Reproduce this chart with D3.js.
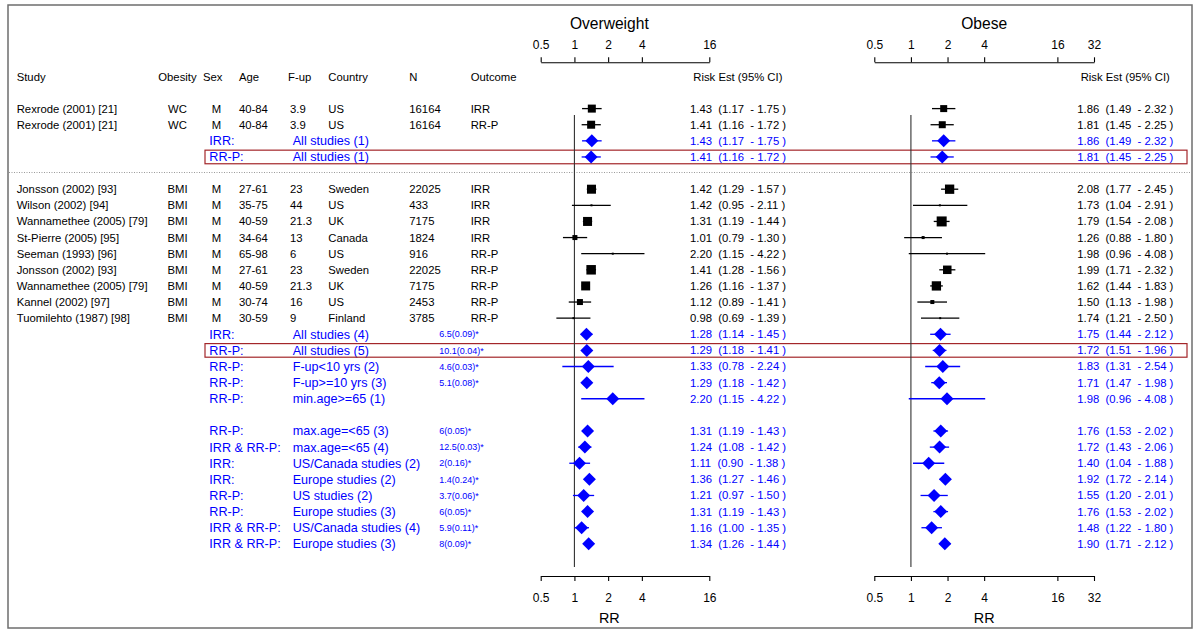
<!DOCTYPE html>
<html>
<head>
<meta charset="utf-8">
<script src="https://cdn.jsdelivr.net/npm/d3@7"></script>
<style>
  html, body { margin: 0; padding: 0; background: #fff; }
  svg { display: block; font-family: "Liberation Sans", Arial, Helvetica, sans-serif; }
  text { white-space: pre; }
</style>
</head>
<body>
<svg id="chart" width="1200" height="635"></svg>
<script>
// ---------- Individual studies ----------
const studies   = ["Rexrode (2001) [21]", "Rexrode (2001) [21]", "Jonsson (2002) [93]", "Wilson (2002) [94]", "Wannamethee (2005) [79]", "St-Pierre (2005) [95]", "Seeman (1993) [96]", "Jonsson (2002) [93]", "Wannamethee (2005) [79]", "Kannel (2002) [97]", "Tuomilehto (1987) [98]"];
const obesity   = ["WC", "WC", "BMI", "BMI", "BMI", "BMI", "BMI", "BMI", "BMI", "BMI", "BMI"];
const sex       = ["M", "M", "M", "M", "M", "M", "M", "M", "M", "M", "M"];
const ages      = ["40-84", "40-84", "27-61", "35-75", "40-59", "34-64", "65-98", "27-61", "40-59", "30-74", "30-59"];
const followUp  = ["3.9", "3.9", "23", "44", "21.3", "13", "6", "23", "21.3", "16", "9"];
const countries = ["US", "US", "Sweden", "US", "UK", "Canada", "US", "Sweden", "UK", "US", "Finland"];
const sampleN   = ["16164", "16164", "22025", "433", "7175", "1824", "916", "22025", "7175", "2453", "3785"];
const outcomes  = ["IRR", "RR-P", "IRR", "IRR", "IRR", "IRR", "RR-P", "RR-P", "RR-P", "RR-P", "RR-P"];
const studyRows = [0, 1, 5, 6, 7, 8, 9, 10, 11, 12, 13];

const owEst = [1.43, 1.41, 1.42, 1.42, 1.31, 1.01, 2.20, 1.41, 1.26, 1.12, 0.98];
const owLo  = [1.17, 1.16, 1.29, 0.95, 1.19, 0.79, 1.15, 1.28, 1.16, 0.89, 0.69];
const owHi  = [1.75, 1.72, 1.57, 2.11, 1.44, 1.30, 4.22, 1.56, 1.37, 1.41, 1.39];
const owBox = [8, 8, 9, 2, 9, 5, 2, 9.5, 9, 6, 2];

const obEst = [1.86, 1.81, 2.08, 1.73, 1.79, 1.26, 1.98, 1.99, 1.62, 1.50, 1.74];
const obLo  = [1.49, 1.45, 1.77, 1.04, 1.54, 0.88, 0.96, 1.71, 1.44, 1.13, 1.21];
const obHi  = [2.32, 2.25, 2.45, 2.91, 2.08, 1.80, 4.08, 2.32, 1.83, 1.98, 2.50];
const obBox = [7, 7, 9.3, 2, 10, 3, 2, 8.5, 9.3, 4, 2];

// ---------- Summary estimates ----------
const sumType  = ["IRR:", "RR-P:", "IRR:", "RR-P:", "RR-P:", "RR-P:", "RR-P:", "RR-P:", "IRR & RR-P:", "IRR:", "IRR:", "RR-P:", "RR-P:", "IRR & RR-P:", "IRR & RR-P:"];
const sumGroup = ["All studies (1)", "All studies (1)", "All studies (4)", "All studies (5)", "F-up<10 yrs (2)", "F-up>=10 yrs (3)", "min.age>=65 (1)", "max.age=<65 (3)", "max.age=<65 (4)", "US/Canada studies (2)", "Europe studies (2)", "US studies (2)", "Europe studies (3)", "US/Canada studies (4)", "Europe studies (3)"];
const sumHet   = ["", "", "6.5(0.09)*", "10.1(0.04)*", "4.6(0.03)*", "5.1(0.08)*", "", "6(0.05)*", "12.5(0.03)*", "2(0.16)*", "1.4(0.24)*", "3.7(0.06)*", "6(0.05)*", "5.9(0.11)*", "8(0.09)*"];
const sumRows  = [2, 3, 14, 15, 16, 17, 18, 20, 21, 22, 23, 24, 25, 26, 27];

const sumOwEst = [1.43, 1.41, 1.28, 1.29, 1.33, 1.29, 2.20, 1.31, 1.24, 1.11, 1.36, 1.21, 1.31, 1.16, 1.34];
const sumOwLo  = [1.17, 1.16, 1.14, 1.18, 0.78, 1.18, 1.15, 1.19, 1.08, 0.90, 1.27, 0.97, 1.19, 1.00, 1.26];
const sumOwHi  = [1.75, 1.72, 1.45, 1.41, 2.24, 1.42, 4.22, 1.43, 1.42, 1.38, 1.46, 1.50, 1.43, 1.35, 1.44];

const sumObEst = [1.86, 1.81, 1.75, 1.72, 1.83, 1.71, 1.98, 1.76, 1.72, 1.40, 1.92, 1.55, 1.76, 1.48, 1.90];
const sumObLo  = [1.49, 1.45, 1.44, 1.51, 1.31, 1.47, 0.96, 1.53, 1.43, 1.04, 1.72, 1.20, 1.53, 1.22, 1.71];
const sumObHi  = [2.32, 2.25, 2.12, 1.96, 2.54, 1.98, 4.08, 2.02, 2.06, 1.88, 2.14, 2.01, 2.02, 1.80, 2.12];

const highlightRows = [3, 15];

// ---------- Axes ----------
const owTicks = [0.5, 1, 2, 4, 16];
const obTicks = [0.5, 1, 2, 4, 16, 32];
const headers = ["Study", "Obesity", "Sex", "Age", "F-up", "Country", "N", "Outcome"];
const panelTitles = ["Overweight", "Obese"];
const axisLabel = "RR";
const riskHeader = "Risk Est (95% CI)";

// ---------- Layout ----------
const svg = d3.select("#chart");
const FONT = 11.3;
const y0 = 108.6, step = 16.12;
const rowY = i => y0 + i * step;

const xOw = d3.scaleLog().base(2).domain([0.5, 16]).range([540.7, 709.3]);
const xOb = d3.scaleLog().base(2).domain([0.5, 32]).range([874.3, 1094]);

// outer frame
svg.append("rect").attr("x", 8).attr("y", 5).attr("width", 1184).attr("height", 623)
  .attr("fill", "none").attr("stroke", "#6e6e6e").attr("stroke-width", 1.5);

// dotted separator
svg.append("line").attr("x1", 9).attr("x2", 1191).attr("y1", 172.5).attr("y2", 172.5)
  .attr("stroke", "#9a9a9a").attr("stroke-width", 1).attr("stroke-dasharray", "1,1.5");

// headers
const headerX = [16.7, 158.3, 203, 239, 288, 328.3, 409.3, 470.7];
const headerY = 77.3;
svg.append("g").selectAll("text").data(headers).join("text")
  .attr("x", (d, i) => headerX[i]).attr("y", headerY).attr("dy", "0.35em")
  .attr("font-size", FONT).attr("fill", "#000").text(d => d);

// study columns
const colDefs = [
  { arr: studies,   x: 16.7,  anchor: "start" },
  { arr: obesity,   x: 177.5, anchor: "middle" },
  { arr: sex,       x: 216.5, anchor: "middle" },
  { arr: ages,      x: 239,   anchor: "start" },
  { arr: followUp,  x: 290,   anchor: "start" },
  { arr: countries, x: 328.3, anchor: "start" },
  { arr: sampleN,   x: 409.3, anchor: "start" },
  { arr: outcomes,  x: 470.7, anchor: "start" }
];
colDefs.forEach(c => {
  svg.append("g").selectAll("text").data(c.arr).join("text")
    .attr("x", c.x).attr("y", (d, i) => rowY(studyRows[i])).attr("dy", "0.35em")
    .attr("text-anchor", c.anchor).attr("font-size", FONT).attr("fill", "#000").text(d => d);
});

// summary labels
const BLUE = "#0000ff";
svg.append("g").selectAll("text").data(sumType).join("text")
  .attr("x", 209.3).attr("y", (d, i) => rowY(sumRows[i])).attr("dy", "0.35em")
  .attr("font-size", 12.6).attr("fill", BLUE).text(d => d);
svg.append("g").selectAll("text").data(sumGroup).join("text")
  .attr("x", 292.7).attr("y", (d, i) => rowY(sumRows[i])).attr("dy", "0.35em")
  .attr("font-size", 12.6).attr("fill", BLUE).text(d => d);
svg.append("g").selectAll("text").data(sumHet).join("text")
  .attr("x", 439.3).attr("y", (d, i) => rowY(sumRows[i])).attr("dy", "0.35em")
  .attr("font-size", 9).attr("fill", BLUE).text(d => d);

// highlight boxes
svg.append("g").selectAll("rect").data(highlightRows).join("rect")
  .attr("x", 205).attr("y", d => rowY(d) - 6.8).attr("width", 982).attr("height", 13.6)
  .attr("fill", "none").attr("stroke", "#a3262a").attr("stroke-width", 1.2);

const fmt = d3.format(".2f");
const ciText = (e, l, h) => `${fmt(e)}  (${fmt(l)}  - ${fmt(h)} )`;

function panel(x, est, lo, hi, box, sEst, sLo, sHi, ticks, title, titleVal, textX, headX) {
  const g = svg.append("g");
  // reference line at 1
  g.append("line").attr("x1", x(1)).attr("x2", x(1)).attr("y1", 115).attr("y2", 567)
    .attr("stroke", "#333").attr("stroke-width", 1.1);

  // top axis
  const top = g.append("g").attr("transform", "translate(0,62.3)")
    .call(d3.axisTop(x).tickValues(ticks).tickFormat(d => String(d)).tickSize(5).tickSizeOuter(0).tickPadding(8));
  // bottom axis
  const bot = g.append("g").attr("transform", "translate(0,576)")
    .call(d3.axisBottom(x).tickValues(ticks).tickFormat(d => String(d)).tickSize(5).tickSizeOuter(0).tickPadding(12));
  [top, bot].forEach(a => {
    a.selectAll("text").attr("font-size", 12).attr("font-family", "Liberation Sans, Arial, sans-serif").attr("fill", "#000");
    a.selectAll("path,line").attr("stroke", "#000").attr("stroke-width", 1.1);
  });

  g.append("text").attr("x", x(titleVal)).attr("y", 23.3).attr("dy", "0.35em")
    .attr("text-anchor", "middle").attr("font-size", 15.6).text(title);
  g.append("text").attr("x", x(titleVal)).attr("y", 618.3).attr("dy", "0.35em")
    .attr("text-anchor", "middle").attr("font-size", 14.4).text(axisLabel);
  g.append("text").attr("x", headX).attr("y", headerY).attr("dy", "0.35em")
    .attr("font-size", FONT).text(riskHeader);

  // studies: CI lines + boxes
  g.append("g").selectAll("line").data(est).join("line")
    .attr("x1", (d, i) => x(lo[i])).attr("x2", (d, i) => x(hi[i]))
    .attr("y1", (d, i) => rowY(studyRows[i])).attr("y2", (d, i) => rowY(studyRows[i]))
    .attr("stroke", "#000").attr("stroke-width", 1.3);
  g.append("g").selectAll("rect").data(est).join("rect")
    .attr("x", (d, i) => x(d) - box[i] / 2).attr("y", (d, i) => rowY(studyRows[i]) - box[i] / 2)
    .attr("width", (d, i) => box[i]).attr("height", (d, i) => box[i]).attr("fill", "#000");
  g.append("g").selectAll("text").data(est).join("text")
    .attr("x", textX).attr("y", (d, i) => rowY(studyRows[i])).attr("dy", "0.35em")
    .attr("font-size", FONT).attr("fill", "#000").text((d, i) => ciText(d, lo[i], hi[i]));

  // summaries: CI lines + diamonds
  g.append("g").selectAll("line").data(sEst).join("line")
    .attr("x1", (d, i) => x(sLo[i])).attr("x2", (d, i) => x(sHi[i]))
    .attr("y1", (d, i) => rowY(sumRows[i])).attr("y2", (d, i) => rowY(sumRows[i]))
    .attr("stroke", BLUE).attr("stroke-width", 1.3);
  g.append("g").selectAll("path").data(sEst).join("path")
    .attr("d", (d, i) => {
      const cx = x(d), cy = rowY(sumRows[i]), r = 6.5;
      return `M${cx - r},${cy}L${cx},${cy - r}L${cx + r},${cy}L${cx},${cy + r}Z`;
    })
    .attr("fill", BLUE);
  g.append("g").selectAll("text").data(sEst).join("text")
    .attr("x", textX).attr("y", (d, i) => rowY(sumRows[i])).attr("dy", "0.35em")
    .attr("font-size", FONT).attr("fill", BLUE).text((d, i) => ciText(d, sLo[i], sHi[i]));
}

panel(xOw, owEst, owLo, owHi, owBox, sumOwEst, sumOwLo, sumOwHi, owTicks, panelTitles[0], 2.05, 690, 693.3);
panel(xOb, obEst, obLo, obHi, obBox, sumObEst, sumObLo, sumObHi, obTicks, panelTitles[1], 4, 1077.3, 1080.7);
</script>
</body>
</html>
